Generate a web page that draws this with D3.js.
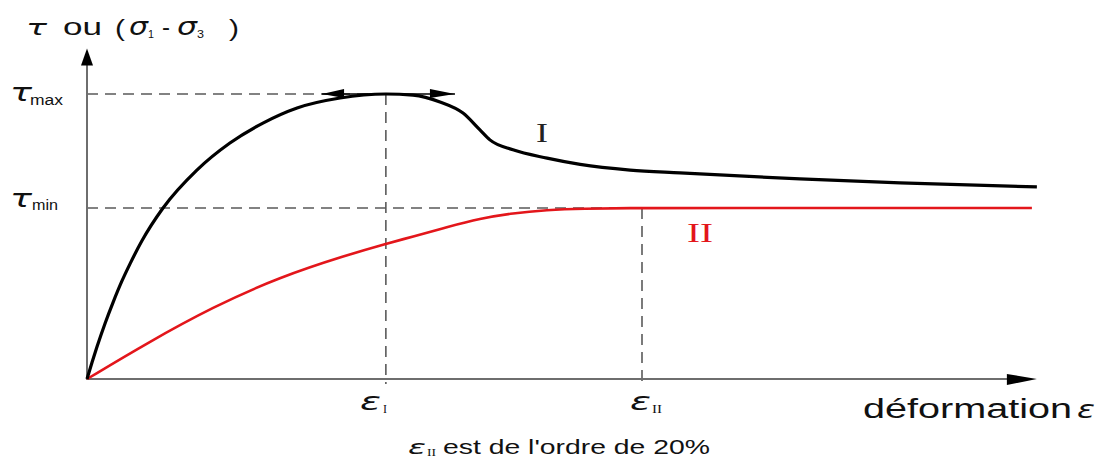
<!DOCTYPE html>
<html>
<head>
<meta charset="utf-8">
<script src="https://cdn.jsdelivr.net/npm/d3@7"></script>
<style>
html,body{margin:0;padding:0;background:#fff;}
svg{display:block;}
</style>
</head>
<body>
<svg id="chart" width="1101" height="460"></svg>
<script>
// ---- data (strain in %, stress normalised to tau_max = 1) ----
const curveIStrain = [0, 0.18, 0.36, 0.65, 0.94, 1.26, 1.55, 1.98, 2.74, 3.96, 5.15, 6.34, 7.57, 9.12, 10.77, 11.75, 12.72, 13.55, 14.16, 14.52, 15.35, 16.58, 17.77, 19.57, 21.37, 25.69, 29.30, 34.23];
const curveIStress = [0, 0.058, 0.113, 0.195, 0.269, 0.344, 0.404, 0.485, 0.600, 0.733, 0.828, 0.898, 0.951, 0.986, 1.000, 0.996, 0.972, 0.933, 0.874, 0.839, 0.804, 0.775, 0.753, 0.733, 0.723, 0.702, 0.688, 0.674];
const curveIIStrain = [0, 2.16, 4.54, 6.95, 9.37, 10.77, 11.75, 12.97, 14.16, 15.35, 16.58, 17.77, 20, 22, 34.05];
const curveIIStress = [0, 0.126, 0.253, 0.358, 0.435, 0.474, 0.500, 0.533, 0.563, 0.582, 0.593, 0.598, 0.600, 0.600, 0.600];
const tauMax = 1.0;
const tauMin = 0.6;
const epsI = 10.77;
const epsII = 20;
const axisMaxX = 34.23;
const axisMaxY = 1.16;
const peakArrowEnds = [8.47, 13.26];

// ---- scales ----
const svg = d3.select("#chart");
const x = d3.scaleLinear().domain([0, epsII]).range([87, 642]);
const y = d3.scaleLinear().domain([0, tauMax]).range([379, 94]);

const grayDash = "#5a5a5a";
const axisCol = "#6e6e6e";

// dashed reference lines
const dashes = [
  {x1: x(0), y1: y(tauMax), x2: x(epsI), y2: y(tauMax)},
  {x1: x(0), y1: y(tauMin), x2: x(epsII), y2: y(tauMin)},
  {x1: x(epsI), y1: y(tauMax), x2: x(epsI), y2: y(0) + 5},
  {x1: x(epsII), y1: y(tauMin), x2: x(epsII), y2: y(0) + 5}
];
svg.selectAll("line.dash").data(dashes).enter().append("line")
  .attr("class", "dash")
  .attr("x1", d => d.x1).attr("y1", d => d.y1)
  .attr("x2", d => d.x2).attr("y2", d => d.y2)
  .attr("stroke", grayDash).attr("stroke-width", 1.6)
  .attr("stroke-dasharray", "11,7");

// axes
svg.append("line").attr("x1", x(0)).attr("y1", y(0)).attr("x2", x(axisMaxX) - 26).attr("y2", y(0))
  .attr("stroke", axisCol).attr("stroke-width", 2);
svg.append("line").attr("x1", x(0)).attr("y1", y(0) + 1).attr("x2", x(0)).attr("y2", y(axisMaxY) + 14)
  .attr("stroke", axisCol).attr("stroke-width", 2);
// arrowheads
const xt = x(axisMaxX), yt = y(0);
svg.append("path").attr("d", `M${xt},${yt} L${xt-30},${yt-5} L${xt-30},${yt+6} Z`).attr("fill", "#000");
const ax = x(0), ay = y(axisMaxY);
svg.append("path").attr("d", `M${ax},${ay} L${ax-6},${ay+17} L${ax+6},${ay+17} Z`).attr("fill", "#000");

// curves
const lineI = d3.line().x(d => x(d[0])).y(d => y(d[1])).curve(d3.curveMonotoneX);
const lineII = d3.line().x(d => x(d[0])).y(d => y(d[1])).curve(d3.curveBasis);
svg.append("path").datum(d3.zip(curveIIStrain, curveIIStress))
  .attr("d", lineII).attr("fill", "none").attr("stroke", "#e3161b").attr("stroke-width", 2.6);
svg.append("path").datum(d3.zip(curveIStrain, curveIStress))
  .attr("d", lineI).attr("fill", "none").attr("stroke", "#000").attr("stroke-width", 3.2);

// peak arrows
const pa = peakArrowEnds.map(v => x(v));
const py = y(tauMax);
svg.append("line").attr("x1", pa[0]).attr("y1", py).attr("x2", pa[1]).attr("y2", py)
  .attr("stroke", "#000").attr("stroke-width", 1.4);
svg.append("path").attr("d", `M${pa[0]},${py} L${pa[0]+22},${py-5} L${pa[0]+22},${py+4} Z`).attr("fill", "#000");
svg.append("path").attr("d", `M${pa[1]},${py} L${pa[1]-25},${py-5} L${pa[1]-25},${py+4} Z`).attr("fill", "#000");

// ---- text helper ----
function txt(s, x0, x1, base, size, opts = {}) {
  const t = svg.append("text")
    .attr("x", x0).attr("y", base)
    .attr("font-family", opts.family || "'Liberation Sans', Arial, sans-serif")
    .attr("font-size", size)
    .attr("font-style", opts.italic ? "italic" : "normal")
    .attr("fill", opts.fill || "#111")
    .text(s);
  if (x1 != null) t.attr("textLength", x1 - x0).attr("lengthAdjust", "spacingAndGlyphs");
  return t;
}
const serif = "'Liberation Serif', 'DejaVu Serif', serif";
const greek = "'DejaVu Sans', sans-serif";

// title
txt("τ", 26, 47, 35, 22, {family: greek, italic: true});
txt("ou", 63, 102, 35, 23);
txt("(", 115, 125, 36, 24);
txt("σ", 129, 148, 35, 24, {family: greek, italic: true});
txt("1", 148, 154, 38, 11);
txt("-", 162, 170, 35, 24);
txt("σ", 177, 197, 35, 24, {family: greek, italic: true});
txt("3", 197, 204, 38, 11);
txt(")", 229, 239, 36, 24);

// tau labels
txt("τ", 10, 32, 101, 24, {family: greek, italic: true});
txt("max", 30, 63, 105, 14);
txt("τ", 10, 32, 207, 24, {family: greek, italic: true});
txt("min", 32, 58, 210, 14);

// eps labels on axis
txt("ε", 360, 381, 410, 25, {family: greek, italic: true});
txt("I", 383, 387, 413, 12, {family: serif});
txt("ε", 630, 651, 410, 25, {family: greek, italic: true});
txt("II", 652, 662, 413, 12, {family: serif});

// curve labels
txt("I", 536, 548, 142, 27, {family: serif, fill: "#222"});
txt("II", 687, 713, 242, 27, {family: serif, fill: "#e3161b"});

// x-axis title
txt("déformation", 863, 1072, 418, 27);
txt("ε", 1077, 1095, 418, 25, {family: greek, italic: true});

// note
txt("ε", 408, 426, 454, 19, {family: greek, italic: true});
txt("II", 427, 436, 456, 10, {family: serif});
txt("est de l'ordre de 20%", 443, 710, 454, 21);
</script>
</body>
</html>
